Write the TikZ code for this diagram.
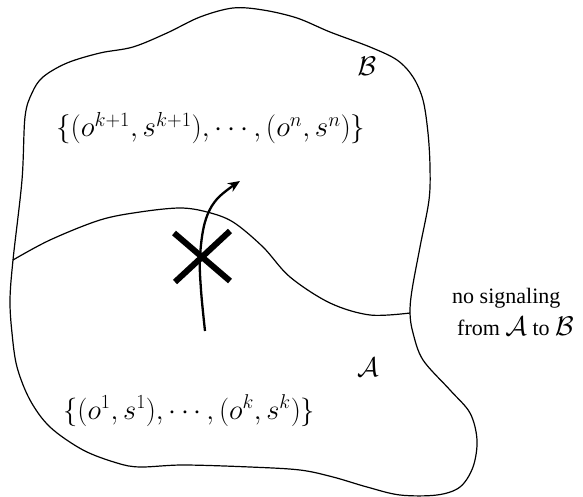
\RequirePackage{fix-cm}
\documentclass[tikz,border=0pt]{standalone}
\usepackage{fontspec}
\setmainfont{Liberation Serif}
\usetikzlibrary{arrows.meta}
\tikzset{
  outline/.style={line width=1.2pt, black},
  crossbar/.style={line width=6pt, black},
  flow/.style={line width=2.3pt, -{Stealth[length=12pt,width=10pt]}},
  toplbl/.style={inner sep=0pt, font=\fontsize{29}{34}\selectfont},
  botlbl/.style={inner sep=0pt, font=\fontsize{28.5}{34}\selectfont},
  setlbl/.style={inner sep=0pt, font=\fontsize{27}{30}\selectfont},
  notelbl/.style={inner sep=0pt, font=\fontsize{22}{26}\selectfont}
}
\newcommand{\bigcal}[1]{{\fontsize{27}{30}\selectfont$\mathcal{#1}$}}
\begin{document}
\begin{tikzpicture}[x=1pt,y=-1pt]
\useasboundingbox (0,0) rectangle (583,497);
% outer region
\draw[outline] plot[smooth cycle, tension=0.55] coordinates {
(22,180) (25,117) (32,93) (43,77) (67,63) (100,53) (133,47) (167,33) (200,17)
(233,8) (263,10) (297,18) (330,32) (370,47) (397,60) (413,77) (423,100)
(428,133) (430,167) (429,200) (420,247) (412,290) (410,313) (413,333)
(423,360) (450,390) (470,413) (477,440) (473,467) (460,487) (437,495)
(400,495) (367,487) (333,477) (300,470) (250,467) (183,465) (140,467)
(117,463) (83,450) (50,427) (30,400) (17,367) (12,333) (10,300) (13,260)};
% divider
\draw[outline] plot[smooth, tension=0.55] coordinates {
(13,260) (50,240) (100,220) (140,212) (180,208) (207,212) (233,222)
(263,247) (290,277) (330,303) (370,315) (410,313)};
% cross
\coordinate (xc) at (202,257);
\draw[crossbar] (174,233) -- (xc) -- (230,281);
\draw[crossbar] (230,231) -- (xc) -- (175,282);
% arrow
\coordinate (as) at (205,331);
\coordinate (ae) at (240,181);
\draw[flow] plot[smooth, tension=0.6] coordinates {(as) (201,290) (200,257) (205,222) (217,199) (ae)};
% labels
\node[setlbl, anchor=base] (B) at (367,76) {$\mathcal{B}$};
\node[setlbl, anchor=base] (A) at (368,376) {$\mathcal{A}$};
\node[toplbl, anchor=base west] (top) at (56,137) {$\{(o^{k+1},s^{k+1}),\cdots,(o^{n},s^{n})\}$};
\node[botlbl, anchor=base west] (bot) at (63,419) {$\{(o^{1},s^{1}),\cdots,(o^{k},s^{k})\}$};
\node[notelbl, anchor=base west] (n1) at (452,303) {no signaling};
\node[notelbl, anchor=base west] (n2) at (457,335) {from \bigcal{A} to \bigcal{B}};
\end{tikzpicture}
\end{document}
